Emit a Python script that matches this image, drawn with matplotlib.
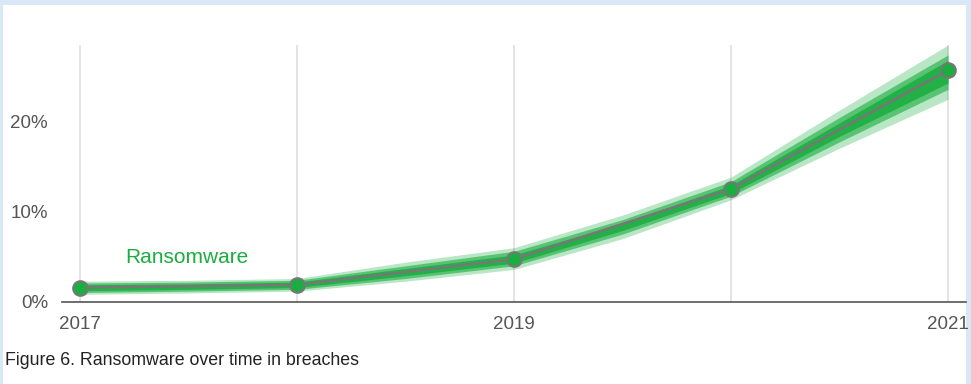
import matplotlib
matplotlib.use("Agg")
import matplotlib.pyplot as plt
from matplotlib.patches import Rectangle
from matplotlib import font_manager

# ---- data ----
years = [2017, 2018, 2019, 2020, 2021]
share = [1.6, 1.9, 4.75, 12.5, 25.6]            # % of breaches with ransomware (point estimates)

# posterior band, sampled every half year
band_x = [2017, 2017.5, 2018, 2018.5, 2019, 2019.5, 2020, 2020.5, 2021]
outer_lo = [0.85, 1.0, 1.2, 2.3, 3.6, 7.0, 11.3, 17.0, 22.4]
outer_hi = [2.3, 2.4, 2.6, 4.4, 6.0, 9.6, 13.8, 21.2, 28.4]
mid_lo = [1.05, 1.2, 1.4, 2.6, 4.0, 7.5, 11.7, 17.7, 23.5]
mid_hi = [2.1, 2.2, 2.4, 4.0, 5.6, 9.1, 13.3, 20.4, 27.3]
core_lo = [1.25, 1.4, 1.6, 2.9, 4.3, 7.9, 12.0, 18.3, 24.2]
core_hi = [1.9, 2.0, 2.2, 3.7, 5.2, 8.7, 12.9, 19.8, 26.7]

xtick_years = [2017, 2019, 2021]
xtick_labels = ["2017", "2019", "2021"]
yticks = [0, 10, 20]
ytick_labels = ["0%", "10%", "20%"]
series_label = "Ransomware"
caption = "Figure 6. Ransomware over time in breaches"

# ---- style ----
GREEN = "#1aad3f"
GREY = "#777777"
plt.rcParams["font.family"] = ["Liberation Sans", "DejaVu Sans"]
names = {f.name for f in font_manager.fontManager.ttflist}
narrow = "Liberation Sans Narrow" in names

W, H = 971, 384
fig = plt.figure(figsize=(W / 100, H / 100), dpi=100)
fig.patch.set_facecolor("#d9e8f6")
fig.patches.append(Rectangle((3 / W, 0), 963 / W, 1 - 5 / H, transform=fig.transFigure,
                             facecolor="white", edgecolor="none", zorder=-10))

ax = fig.add_axes([62 / W, (H - 302) / H, (966 - 62) / W, (302 - 45) / H])
ax.set_zorder(5)
ax.set_facecolor("none")
ax.set_xlim(2016.917, 2021.083)
ax.set_ylim(0, 28.4)

for y in years:
    ax.axvline(y, color="#dcdcdc", lw=1.1, zorder=1)

ax.fill_between(band_x, outer_lo, outer_hi, color=GREEN, alpha=0.3, lw=0, zorder=2)
ax.fill_between(band_x, mid_lo, mid_hi, color=GREEN, alpha=0.6, lw=0, zorder=2)
ax.fill_between(band_x, core_lo, core_hi, color=GREEN, alpha=0.85, lw=0, zorder=2)

ax.plot(years, share, color=GREY, lw=1.8, zorder=3)
ax.plot(years, share, linestyle="none", marker="o", ms=10.5, mfc=GREEN, mec=GREY, mew=1.5, zorder=4)

ax.text(2017.21, 4.97, series_label, color=GREEN, fontsize=15, ha="left", va="center")

for s in ["top", "right", "left"]:
    ax.spines[s].set_visible(False)
ax.spines["bottom"].set_color("#555555")
ax.spines["bottom"].set_linewidth(1.2)

ax.set_xticks(xtick_years)
ax.set_xticklabels(xtick_labels)
ax.set_yticks(yticks)
ax.set_yticklabels(ytick_labels)
ax.tick_params(axis="x", length=0, pad=10, labelsize=13.5, labelcolor="#555555")
ax.tick_params(axis="y", length=0, pad=10, labelsize=13.5, labelcolor="#555555")

if narrow:
    fig.text(5 / W, 1 - 365 / H, caption, fontsize=15.5, color="#222222", ha="left",
             va="baseline", family=["Liberation Sans Narrow", "DejaVu Sans"])
else:
    fig.text(5 / W, 1 - 365 / H, caption, fontsize=12.8, color="#222222", ha="left", va="baseline")

fig.savefig("out.png", dpi=100, facecolor=fig.get_facecolor())
